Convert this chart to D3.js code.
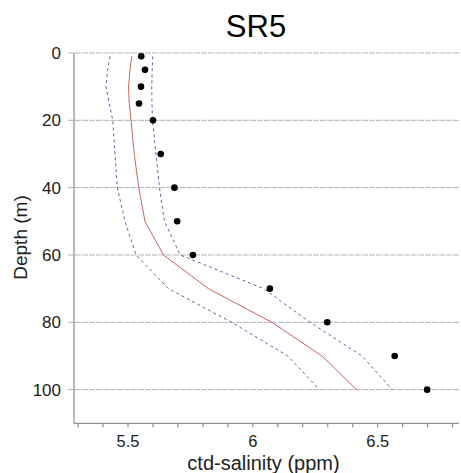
<!DOCTYPE html>
<html><head><meta charset="utf-8">
<script src="https://cdn.jsdelivr.net/npm/d3@7"></script>
<style>body{margin:0;background:#fff;font-family:"Liberation Sans",Arial,sans-serif;}</style>
</head><body><svg id="c" width="461" height="473"></svg>
<script>
const title = "SR5";
const xLabel = "ctd-salinity (ppm)";
const yLabel = "Depth (m)";
const xTicks = [5.5, 6, 6.5];
const xMinorTicks = [5.3,5.4,5.5,5.6,5.7,5.8,5.9,6.0,6.1,6.2,6.3,6.4,6.5,6.6,6.7,6.8];
const yTicks = [0, 20, 40, 60, 80, 100];
const obsDepth = [1, 5, 10, 15, 20, 30, 40, 50, 60, 70, 80, 90, 100];
const obsSal = [5.553, 5.568, 5.552, 5.544, 5.600, 5.631, 5.686, 5.697, 5.760, 6.068, 6.298, 6.568, 6.698];
const lineDepth = [1, 5, 10, 15, 20, 30, 40, 50, 60, 70, 80, 90, 100];
const medianSal = [5.515, 5.508, 5.502, 5.505, 5.512, 5.525, 5.543, 5.568, 5.642, 5.822, 6.076, 6.277, 6.415];
const lowerSal = [5.428, 5.418, 5.412, 5.425, 5.439, 5.448, 5.457, 5.488, 5.532, 5.662, 5.915, 6.140, 6.267];
const upperSal = [5.599, 5.597, 5.595, 5.596, 5.598, 5.612, 5.626, 5.646, 5.709, 6.043, 6.229, 6.437, 6.558];

const svg = d3.select("#c");
const x = d3.scaleLinear().domain([5.2837, 6.8256]).range([74, 459]);
const y = d3.scaleLinear().domain([0, 110]).range([53, 423.3]);

// grid lines
svg.append("g").selectAll("line").data(yTicks).join("line")
  .attr("x1", 68).attr("x2", 459)
  .attr("y1", d => y(d)).attr("y2", d => y(d))
  .attr("stroke", "#b4b4b4").attr("stroke-width", 1).attr("stroke-dasharray", "6,1");

// y tick labels
svg.append("g").selectAll("text").data(yTicks).join("text")
  .attr("x", 61).attr("y", d => y(d)).attr("dy", "0.36em")
  .attr("text-anchor", "end").attr("font-size", 17).attr("fill", "#222")
  .text(d => d);

// axes lines
svg.append("line").attr("x1", 74).attr("x2", 74).attr("y1", y(0)).attr("y2", y(110))
  .attr("stroke", "#777").attr("stroke-width", 1);
svg.append("line").attr("x1", 74).attr("x2", 459).attr("y1", y(110)).attr("y2", y(110))
  .attr("stroke", "#777").attr("stroke-width", 1);

// x ticks
svg.append("g").selectAll("line").data(xMinorTicks).join("line")
  .attr("x1", d => x(d)).attr("x2", d => x(d))
  .attr("y1", y(110)).attr("y2", y(110) + 4)
  .attr("stroke", "#777").attr("stroke-width", 1);
svg.append("g").selectAll("text").data(xTicks).join("text")
  .attr("x", d => x(d)).attr("y", 447)
  .attr("text-anchor", "middle").attr("font-size", 16.5).attr("fill", "#222")
  .text(d => d);

// lines
const lineGen = vals => d3.line().x((d, i) => x(vals[i])).y(d => y(d))(lineDepth);
svg.append("path").attr("d", lineGen(lowerSal)).attr("fill", "none")
  .attr("stroke", "#4a58a0").attr("stroke-width", 0.9).attr("stroke-dasharray", "3,3");
svg.append("path").attr("d", lineGen(upperSal)).attr("fill", "none")
  .attr("stroke", "#4a58a0").attr("stroke-width", 0.9).attr("stroke-dasharray", "3,3");
svg.append("path").attr("d", lineGen(medianSal)).attr("fill", "none")
  .attr("stroke", "#c86464").attr("stroke-width", 1);

// observations
svg.append("g").selectAll("circle").data(obsDepth).join("circle")
  .attr("cx", (d, i) => x(obsSal[i])).attr("cy", d => y(d)).attr("r", 3.3)
  .attr("fill", "#000");

// titles
svg.append("text").attr("x", 256).attr("y", 37).attr("text-anchor", "middle")
  .attr("font-size", 31).attr("fill", "#000").text(title);
svg.append("text").attr("x", 263.5).attr("y", 470).attr("text-anchor", "middle")
  .attr("font-size", 20).attr("fill", "#222").text(xLabel);
svg.append("text").attr("transform", "translate(27,237.5) rotate(-90)").attr("text-anchor", "middle")
  .attr("font-size", 19).attr("fill", "#222").text(yLabel);
</script></body></html>
